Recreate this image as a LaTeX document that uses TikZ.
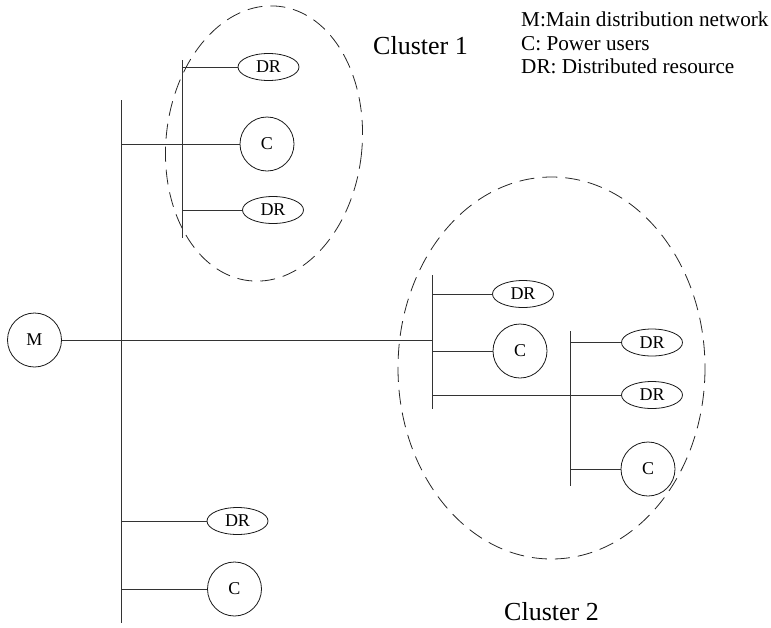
\documentclass[tikz,border=0pt]{standalone}
\usepackage{fontspec}
\setmainfont{Liberation Serif}
\usetikzlibrary{shapes.geometric}
\begin{document}
\begin{tikzpicture}[x=1pt,y=-1pt,
  wire/.style={line width=0.9pt, draw=black!80},
  bus/.style={line width=1pt, draw=black!80},
  cnode/.style={circle, draw=black!90, line width=0.8pt, minimum size=54pt, inner sep=0pt,
                font=\fontsize{18}{20}\selectfont},
  drnode/.style={ellipse, draw=black!90, line width=0.8pt, minimum width=61pt, minimum height=27pt,
                 inner sep=0pt, font=\fontsize{18}{20}\selectfont},
  zone/.style={draw=black!85, line width=0.8pt, dash pattern=on 15pt off 8pt},
  legend/.style={anchor=base west, inner sep=0pt, font=\fontsize{21.2}{23}\selectfont},
  clabel/.style={anchor=base west, inner sep=0pt, font=\fontsize{26}{30}\selectfont}]
\useasboundingbox (0,0) rectangle (771,627);

% bus end points
\coordinate (mTop) at (121,100);
\coordinate (mBot) at (121,623);
\coordinate (aTop) at (182,60);
\coordinate (aBot) at (182,238);
\coordinate (bTop) at (432,275);
\coordinate (bBot) at (432,409);
\coordinate (cTop) at (570,331);
\coordinate (cBot) at (570,486);

% cluster boundaries
\draw[zone, rotate around={-6:(264,143.5)}] (264,143.5) ellipse [x radius=98, y radius=138];
\draw[zone] (551.5,368) ellipse [x radius=153.5, y radius=191];

% nodes
\node[cnode]  (M)    at (34.5,340) {M};
\node[drnode] (dr11) at (268.5,67) {DR};
\node[cnode]  (c11)  at (267,144) {C};
\node[drnode] (dr12) at (273,210) {DR};
\node[drnode] (dr21) at (523,294) {DR};
\node[cnode]  (c21)  at (520,351) {C};
\node[drnode] (dr22) at (652,342.5) {DR};
\node[drnode] (dr23) at (652,395) {DR};
\node[cnode]  (c22)  at (648,469) {C};
\node[drnode] (dr31) at (237.5,521) {DR};
\node[cnode]  (c31)  at (234.5,589) {C};

% buses
\draw[bus] (mTop) -- (mBot);
\draw[bus] (aTop) -- (aBot);
\draw[bus] (bTop) -- (bBot);
\draw[bus] (cTop) -- (cBot);

% feeders
\draw[wire] (M.east) -- (M.east -| bTop);
\draw[wire] (dr11.west) -- (dr11.west -| aTop);
\draw[wire] (c11.west) -- (c11.west -| mTop);
\draw[wire] (dr12.west) -- (dr12.west -| aTop);
\draw[wire] (dr21.west) -- (dr21.west -| bTop);
\draw[wire] (c21.west) -- (c21.west -| bTop);
\draw[wire] (dr22.west) -- (dr22.west -| cTop);
\draw[wire] (dr23.west) -- (dr23.west -| bTop);
\draw[wire] (c22.west) -- (c22.west -| cTop);
\draw[wire] (dr31.west) -- (dr31.west -| mTop);
\draw[wire] (c31.west) -- (c31.west -| mTop);

% labels
\node[clabel] (cl1) at (373,54) {Cluster 1};
\node[clabel] (cl2) at (504,620) {Cluster 2};
\node[legend] (lgM)  at (521,26.7) {M:Main distribution network};
\node[legend] (lgC)  at (521,50) {C: Power users};
\node[legend] (lgDR) at (521,73.3) {DR: Distributed resource};
\end{tikzpicture}
\end{document}
